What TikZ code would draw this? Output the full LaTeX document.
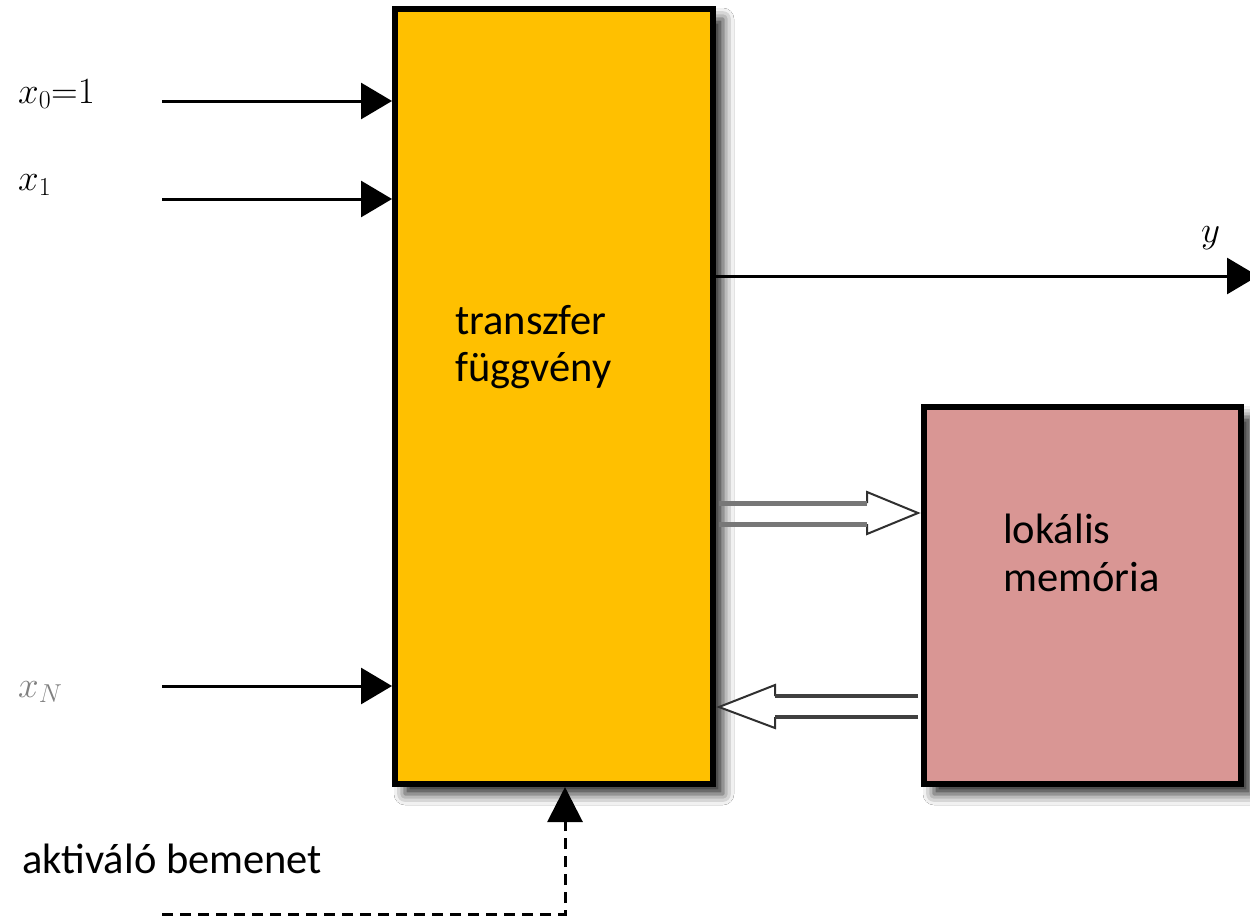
\RequirePackage{fix-cm}
\documentclass[tikz,border=0pt]{standalone}
\usepackage{fontspec}
\setmainfont{Carlito}
\usetikzlibrary{arrows.meta,calc,shadows.blur}
\definecolor{boxgold}{HTML}{FFC000}
\definecolor{boxrose}{HTML}{D99694}
\definecolor{shaftgrey}{HTML}{777777}
\definecolor{shaftdark}{HTML}{404040}
\definecolor{headdark}{HTML}{303030}
\begin{document}
\begin{tikzpicture}[x=1pt,y=-1pt,
  blockbox/.style={draw=black,line width=6pt,inner sep=0pt,
     blur shadow={shadow xshift=10pt,shadow yshift=-10pt,shadow blur radius=11pt,shadow opacity=85}},
  txt/.style={anchor=base west,inner sep=0pt,font=\fontsize{42.5}{47}\selectfont},
  mlbl/.style={anchor=base west,inner sep=0pt,font=\fontsize{37}{44}\selectfont},
  inarrow/.style={line width=3pt,-{Triangle[length=31pt,width=36pt]}},
  actarrow/.style={line width=3pt,dash pattern=on 11pt off 7pt,-{Triangle[length=35pt,width=35pt]}},
  shafttop/.style={draw=shaftgrey,line width=5pt},
  shaftbot/.style={draw=shaftdark,line width=4pt},
  headline/.style={draw=headdark,line width=2pt,fill=white,line join=miter}
]
\clip (0,0) rectangle (1250,918);
\fill[white] (0,0) rectangle (1250,918);

% blocks
\node[blockbox,fill=boxgold,minimum width=318pt,minimum height=775pt] (main) at (554,396.5) {};
\node[blockbox,fill=boxrose,minimum width=317pt,minimum height=377pt] (mem) at (1082.5,595.5) {};

% texts
\node[txt] (tf1) at (455,334) {transzfer};
\node[txt] (tf2) at (455,381) {függvény};
\node[txt] (lm1) at (1003,543) {lokális};
\node[txt] (lm2) at (1003,591) {memória};
\node[txt] (act) at (22,873) {aktiváló bemenet};

% input labels
\node[mlbl] (lx0) at (18,103) {$x_0{=}1$};
\node[mlbl] (lx1) at (18,190) {$x_1$};
\node[mlbl,text=gray] (lxN) at (18,697) {$x_N$};
\node[mlbl] (ly) at (1201,242) {$y$};

% input arrows
\coordinate (s0) at (162,101);
\coordinate (s1) at (162,199);
\coordinate (sN) at (162,686);
\draw[inarrow] (s0) -- (s0 -| main.west);
\draw[inarrow] (s1) -- (s1 -| main.west);
\draw[inarrow] (sN) -- (sN -| main.west);

% output arrow
\coordinate (yend) at (1258,276);
\draw[inarrow] (main.east |- yend) -- (yend);

% activating input (dashed)
\coordinate (astart) at (162,914);
\draw[actarrow] (astart) -| (main.south -| 565,0);

% fat arrow: main -> memory
\draw[headline] ($(mem.west |- 0,503)+(-54,0)$) -- ($(mem.west |- 0,492)+(-54,0)$)
   -- ($(mem.west |- 0,513)+(-3,0)$) -- ($(mem.west |- 0,534)+(-54,0)$)
   -- ($(mem.west |- 0,524)+(-54,0)$);
\draw[shafttop] ($(main.east |- 0,503)+(3,0)$) -- ($(mem.west |- 0,503)+(-54,0)$);
\draw[shafttop] ($(main.east |- 0,524)+(3,0)$) -- ($(mem.west |- 0,524)+(-54,0)$);

% fat arrow: memory -> main
\draw[headline] ($(main.east |- 0,696)+(59,0)$) -- ($(main.east |- 0,685)+(59,0)$)
   -- ($(main.east |- 0,707)+(3,0)$) -- ($(main.east |- 0,728)+(59,0)$)
   -- ($(main.east |- 0,717)+(59,0)$);
\draw[shaftbot] ($(mem.west |- 0,696)+(-3,0)$) -- ($(main.east |- 0,696)+(59,0)$);
\draw[shaftbot] ($(mem.west |- 0,717)+(-3,0)$) -- ($(main.east |- 0,717)+(59,0)$);
\end{tikzpicture}
\end{document}
